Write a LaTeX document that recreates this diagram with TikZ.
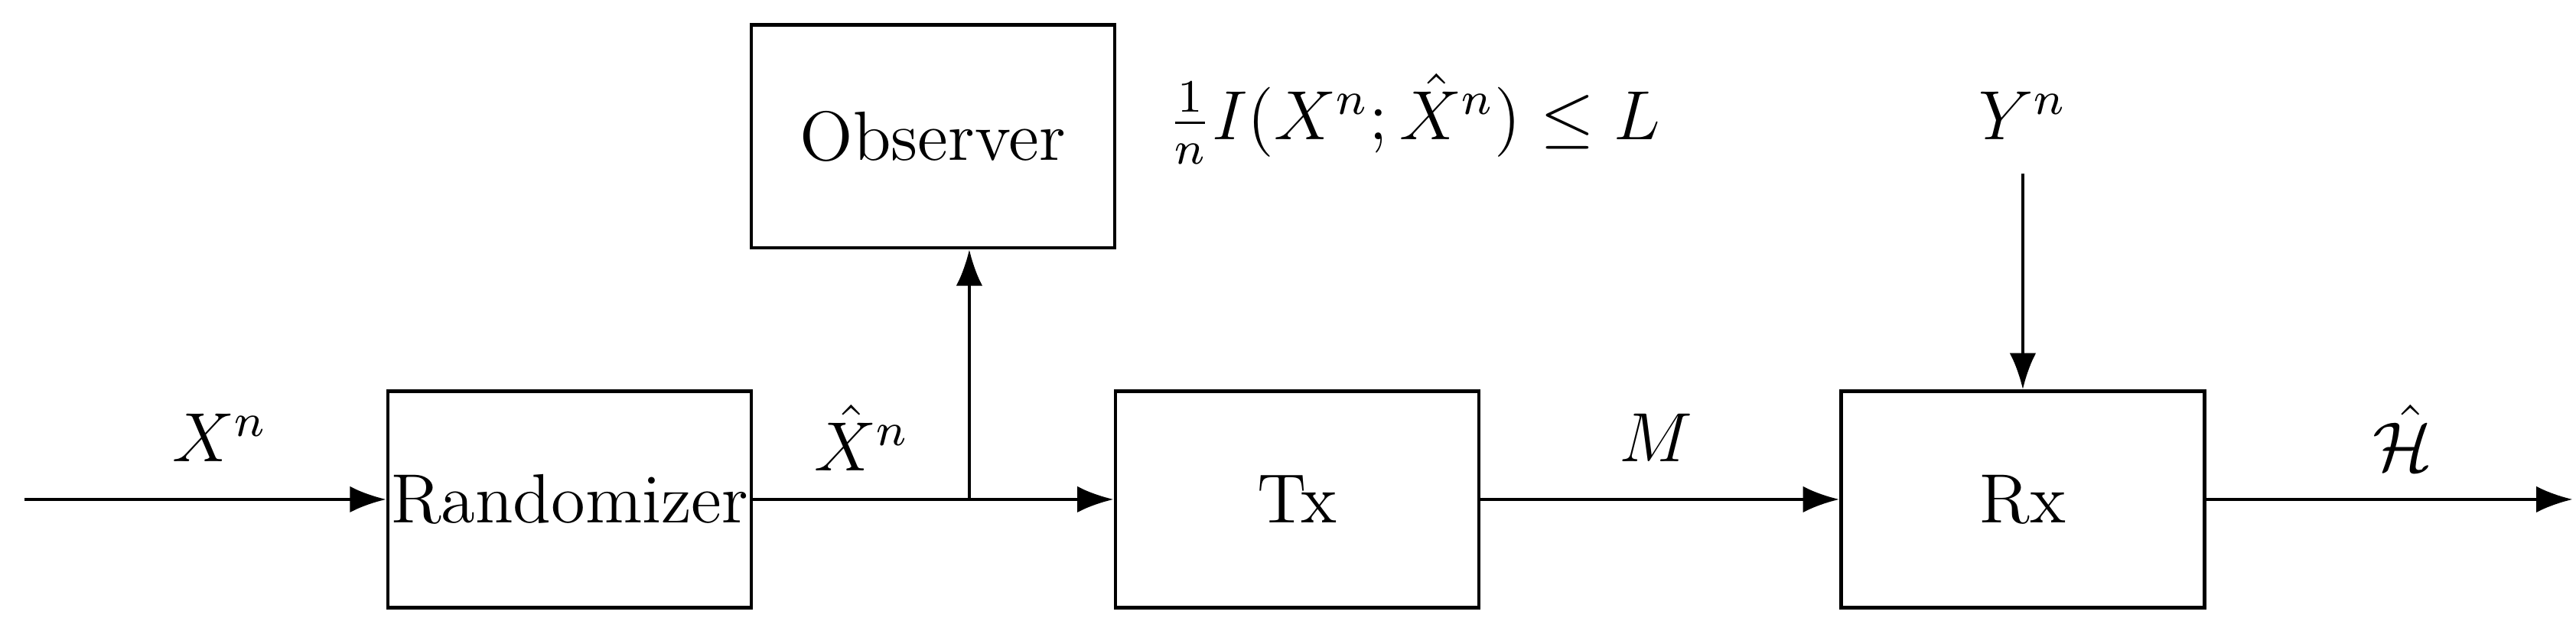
\documentclass[tikz,border=0pt]{standalone}
\usetikzlibrary{arrows.meta}
\begin{document}
\begin{tikzpicture}[x=0.01cm,y=-0.01cm,font=\large,
  blk/.style={draw,line width=0.6pt,minimum width=2.2cm,minimum height=1.31cm,inner sep=0pt},
  arr/.style={-{Latex[length=2.2mm,width=1.6mm]},line width=0.6pt}]
\useasboundingbox (0,0) rectangle (1560,390);
\node[blk] (rand) at (345,302.5) {Randomizer};
\node[blk] (tx) at (785.5,302.5) {Tx};
\node[blk] (rx) at (1225,302.5) {Rx};
\node[blk,minimum height=1.35cm] (obs) at (565,82.5) {Observer};
\coordinate (in) at (15,302.5);
\coordinate (out) at (1558,302.5);
\coordinate (j) at (587,302.5);
\coordinate (ytop) at (1225,105);
\draw[arr] (in) -- (rand.west);
\draw[arr] (rand.east) -- (tx.west);
\draw[arr] (j) -- (j |- obs.south);
\draw[arr] (tx.east) -- (rx.west);
\draw[arr] (rx.east) -- (out);
\draw[arr] (ytop) -- (rx.north);
\node (lx) at (133,265) {$X^n$};
\node (lxh) at (522,265) {$\hat X^n$};
\node (lm) at (1003,265) {$M$};
\node (lh) at (1455,265) {$\hat{\mathcal H}$};
\node (ly) at (1225,70) {$Y^n$};
\node[anchor=west] (li) at (695,72) {$\frac1n I(X^n;\hat X^n)\le L$};
\end{tikzpicture}
\end{document}
